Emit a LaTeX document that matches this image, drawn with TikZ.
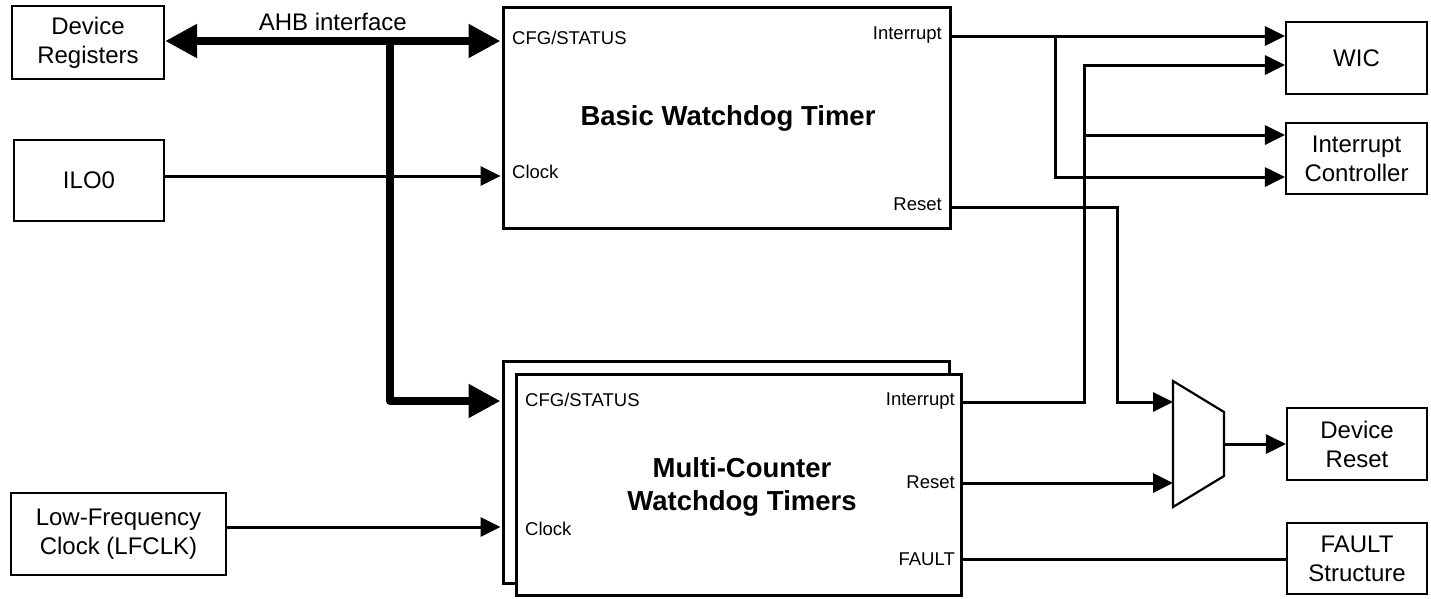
\documentclass[tikz,border=0pt]{standalone}
\usepackage{fontspec}
\setmainfont{Liberation Sans}
\usetikzlibrary{arrows.meta,calc}
\begin{document}
\begin{tikzpicture}[x=1pt,y=-1pt,
  box/.style={draw, line width=2.2pt, fill=white, inner sep=0pt, align=center,
    font=\fontsize{24}{29}\selectfont},
  timer/.style={draw, line width=3.5pt, fill=white, inner sep=0pt},
  port/.style={inner sep=0pt, text height=.716em, text depth=0pt,
    font=\fontsize{18.5}{22}\selectfont},
  title/.style={align=center, inner sep=0pt, font=\fontsize{27.5}{33}\selectfont\bfseries},
  conn/.style={line width=3pt},
  tip/.style={-{Triangle[length=20pt,width=19pt]}},
  bus/.style={line width=8pt, line join=round},
  bustip/.style={-{Triangle[length=32pt,width=32pt]}},
  busboth/.style={{Triangle[length=32pt,width=32pt]}-{Triangle[length=32pt,width=32pt]}},
  muxshape/.style={draw, line width=2.2pt, fill=white, line join=miter}
]
\useasboundingbox (0,0) rectangle (1431,598);

% source blocks on the left
\node[box, minimum width=152pt, minimum height=73pt] (devreg) at (88,42.5) {Device\\Registers};
\node[box, minimum width=150pt, minimum height=81pt] (ilo) at (89,180.5) {ILO0};
\node[box, minimum width=215pt, minimum height=82pt] (lfclk) at (118.5,534) {Low-Frequency\\Clock (LFCLK)};

% basic watchdog timer
\node[timer, minimum width=447pt, minimum height=221pt] (bwdt) at (727,118) {};
\node[title] (bwdt-title) at (728,118) {Basic Watchdog Timer};
\node[port, anchor=west] (bwdt-cfg) at (512,41) {CFG/STATUS};
\node[port, anchor=west] (bwdt-clk) at (512,175) {Clock};
\node[port, anchor=east] (bwdt-int) at (942,36) {Interrupt};
\node[port, anchor=east] (bwdt-rst) at (942,207) {Reset};

% multi-counter watchdog timers (stacked instances)
\node[timer, minimum width=446pt, minimum height=222pt] (mcback) at (726.5,472.5) {};
\node[timer, minimum width=445pt, minimum height=221pt] (mcfront) at (739,485) {};
\node[title] (mc-title) at (742,486.5) {Multi-Counter\\Watchdog Timers};
\node[port, anchor=west] (mc-cfg) at (525,403) {CFG/STATUS};
\node[port, anchor=west] (mc-clk) at (525,532) {Clock};
\node[port, anchor=east] (mc-int) at (955,402) {Interrupt};
\node[port, anchor=east] (mc-rst) at (955,485) {Reset};
\node[port, anchor=east] (mc-flt) at (955,562) {FAULT};

% destination blocks on the right
\node[box, minimum width=141pt, minimum height=72pt] (wic) at (1356.5,58) {WIC};
\node[box, minimum width=141pt, minimum height=71pt] (intc) at (1356.5,158.5) {Interrupt\\Controller};
\node[box, minimum width=140pt, minimum height=72pt] (devrst) at (1357,444) {Device\\Reset};
\node[box, minimum width=140pt, minimum height=71pt] (fault) at (1357,558.5) {FAULT\\Structure};

% reset multiplexer
\draw[muxshape] (1173,381) -- (1224,412) -- (1224,476) -- (1173,507) -- cycle;
\coordinate (mux-in1) at (1173,402);
\coordinate (mux-in2) at (1173,483);
\coordinate (mux-out) at (1224,444);

% port coordinates on block edges
\coordinate (b-cfg) at (500.5,41);
\coordinate (b-clk) at (500.5,176);
\coordinate (b-int) at (bwdt.east |- 0,36);
\coordinate (b-rst) at (bwdt.east |- 0,207);
\coordinate (m-cfg) at (500.5,401);
\coordinate (m-clk) at (500.5,527);
\coordinate (m-int) at (mcfront.east |- 0,402);
\coordinate (m-rst) at (mcfront.east |- 0,483);
\coordinate (m-flt) at (mcfront.east |- 0,559);
\coordinate (tap) at (390,41);
\coordinate (wic-in2) at ($(wic.west)+(0,7)$);
\coordinate (intc-in1) at ($(intc.west)+(0,-23.5)$);
\coordinate (intc-in2) at ($(intc.west)+(0,18.5)$);

% AHB bus
\draw[bus, busboth] (devreg.east |- b-cfg) -- (b-cfg)
  node[midway, above=6pt, inner sep=0pt, font=\fontsize{24}{29}\selectfont] (ahb) {AHB interface};
\draw[bus, bustip] (tap) |- (m-cfg);

% clocks
\draw[conn, tip] (ilo.east |- b-clk) -- (b-clk);
\draw[conn, tip] (lfclk.east |- m-clk) -- (m-clk);

% interrupts
\draw[conn, tip] (b-int) -- (b-int -| wic.west);
\draw[conn, tip] (b-int) ++(103,0) |- (intc-in2);
\draw[conn, tip] (m-int) -- ++(121,0) |- (wic-in2);
\draw[conn, tip] (m-int) ++(121,0) |- (intc-in1);

% resets
\draw[conn, tip, line join=miter] (b-rst) -- ++(165,0) |- (mux-in1);
\draw[conn, tip] (m-rst) -- (mux-in2);
\draw[conn, tip] (mux-out) -- (mux-out -| devrst.west);

% fault
\draw[conn] (m-flt) -- (m-flt -| fault.west);
\end{tikzpicture}
\end{document}
